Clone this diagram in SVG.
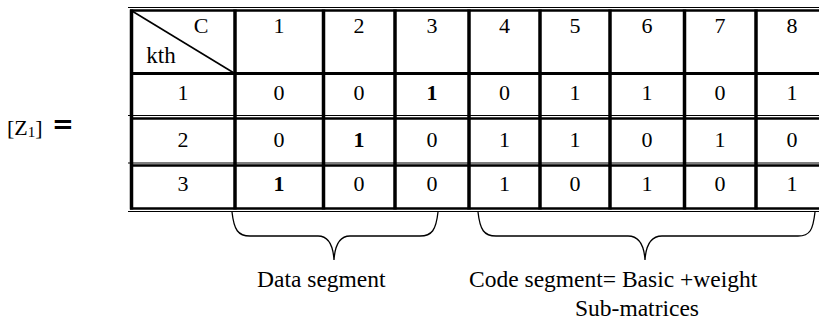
<svg xmlns="http://www.w3.org/2000/svg" width="819" height="322" viewBox="0 0 819 322">
<style>
.t{font-family:"Liberation Serif","Times New Roman",serif;font-size:22px;fill:#000;text-anchor:middle}
.b{font-weight:bold}
.lbl{font-family:"Liberation Serif","Times New Roman",serif;font-size:23.5px;fill:#000}
.thin{stroke:#000;stroke-width:1.2}
.thick{stroke:#000;stroke-width:2.5}
.v{stroke:#000;stroke-width:3.5}
.brace{fill:none;stroke:#000;stroke-width:1.3}
</style>
<rect width="819" height="322" fill="#fff"/>
<g id="label-z1">
<text x="7" y="135" font-family="Liberation Serif, serif" font-size="22">[Z<tspan font-size="15" dy="2">1</tspan><tspan dy="-2">]</tspan></text>
<text x="52" y="133" font-family="DejaVu Sans, sans-serif" font-size="26" font-weight="bold">=</text>
</g>
<g id="table-grid">
<line class="thin" x1="128" y1="7.5" x2="819" y2="7.5"/>
<line class="thick" x1="130" y1="10.5" x2="819" y2="10.5"/>
<line x1="130" y1="73.5" x2="819" y2="73.5" stroke="#000" stroke-width="3"/>
<line class="thin" x1="128" y1="115.5" x2="819" y2="115.5"/>
<line class="thick" x1="130" y1="118.5" x2="819" y2="118.5"/>
<line class="thin" x1="128" y1="163" x2="819" y2="163"/>
<line class="thick" x1="130" y1="165.5" x2="819" y2="165.5"/>
<line class="thick" x1="130" y1="208.5" x2="819" y2="208.5"/>
<line class="thin" x1="128" y1="211.5" x2="819" y2="211.5"/>
<line class="v" x1="131.5" y1="9.5" x2="131.5" y2="209.5"/>
<line class="v" x1="235" y1="9.5" x2="235" y2="209.5"/>
<line class="v" x1="323.5" y1="9.5" x2="323.5" y2="209.5"/>
<line class="v" x1="395" y1="9.5" x2="395" y2="209.5"/>
<line class="v" x1="469" y1="9.5" x2="469" y2="209.5"/>
<line class="v" x1="540" y1="9.5" x2="540" y2="209.5"/>
<line class="v" x1="610" y1="9.5" x2="610" y2="209.5"/>
<line class="v" x1="684.5" y1="9.5" x2="684.5" y2="209.5"/>
<line class="v" x1="756" y1="9.5" x2="756" y2="209.5"/>
<line x1="132" y1="11" x2="234" y2="73" stroke="#000" stroke-width="1.6"/>
</g>
<g id="header">
<text class="t" x="201" y="33">C</text>
<text class="t" x="161" y="63" style="font-size:23px">kth</text>
<text class="t" x="279" y="33">1</text>
<text class="t" x="359" y="33">2</text>
<text class="t" x="432" y="33">3</text>
<text class="t" x="504.5" y="33">4</text>
<text class="t" x="575" y="33">5</text>
<text class="t" x="647" y="33">6</text>
<text class="t" x="720" y="33">7</text>
<text class="t" x="792" y="33">8</text>
</g>
<g id="row1">
<text class="t" x="183" y="99.5">1</text>
<text class="t" x="279" y="99.5">0</text>
<text class="t" x="359" y="99.5">0</text>
<text class="t b" x="432" y="99.5">1</text>
<text class="t" x="504.5" y="99.5">0</text>
<text class="t" x="575" y="99.5">1</text>
<text class="t" x="647" y="99.5">1</text>
<text class="t" x="720" y="99.5">0</text>
<text class="t" x="792" y="99.5">1</text>
</g>
<g id="row2">
<text class="t" x="183" y="147">2</text>
<text class="t" x="279" y="147">0</text>
<text class="t b" x="359" y="147">1</text>
<text class="t" x="432" y="147">0</text>
<text class="t" x="504.5" y="147">1</text>
<text class="t" x="575" y="147">1</text>
<text class="t" x="647" y="147">0</text>
<text class="t" x="720" y="147">1</text>
<text class="t" x="792" y="147">0</text>
</g>
<g id="row3">
<text class="t" x="183" y="191">3</text>
<text class="t b" x="279" y="191">1</text>
<text class="t" x="359" y="191">0</text>
<text class="t" x="432" y="191">0</text>
<text class="t" x="504.5" y="191">1</text>
<text class="t" x="575" y="191">0</text>
<text class="t" x="647" y="191">1</text>
<text class="t" x="720" y="191">0</text>
<text class="t" x="792" y="191">1</text>
</g>
<g id="connectors">
<path class="brace" d="M232,212 C234,230 238,236 250,236 L318,236 C328,236 333,244 334,260 C335,244 340,236 350,236 L420,236 C432,236 436,230 438,212"/>
<path class="brace" d="M478,212 C480,230 484,236 496,236 L628,236 C638,236 644,244 645,260 C646,244 652,236 662,236 L798,236 C810,236 813,230 815,212"/>
</g>
<g id="data-segment">
<text class="lbl" x="257" y="287">Data segment</text>
</g>
<g id="code-segment">
<text class="lbl" x="469" y="287">Code segment= Basic +weight</text>
<text class="lbl" x="575" y="316">Sub-matrices</text>
</g>
</svg>
